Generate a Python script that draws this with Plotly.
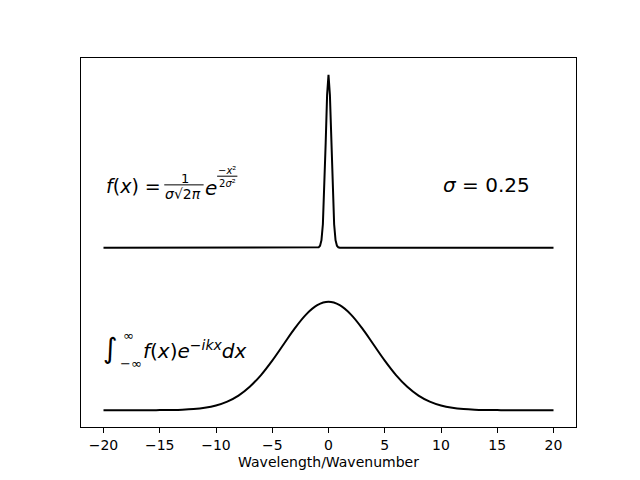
import plotly.graph_objects as go

# narrow gaussian (sigma = 0.25), drawn with an offset of 1.5
x_top = [-20, -5, -2, -1, -0.875, -0.75, -0.625, -0.5, -0.375, -0.25, -0.125, 0,
         0.125, 0.25, 0.375, 0.5, 0.625, 0.75, 0.875, 1, 2, 5, 20]
y_top = [1.5, 1.5, 1.5, 1.5, 1.5035, 1.518, 1.570, 1.716, 2.018, 2.468, 2.908, 3.096,
         2.908, 2.468, 2.018, 1.716, 1.570, 1.518, 1.5035, 1.5, 1.5, 1.5, 1.5]

# its transform (wide gaussian)
x_bot = [-20, -18, -16, -15, -14, -13, -12, -11, -10, -9, -8, -7, -6, -5, -4, -3, -2, -1, 0,
         1, 2, 3, 4, 5, 6, 7, 8, 9, 10, 11, 12, 13, 14, 15, 16, 18, 20]
y_bot = [0, 0, 0.0003, 0.0009, 0.0022, 0.0051, 0.0111, 0.0228, 0.0439, 0.0796, 0.1353, 0.2163,
         0.3247, 0.458, 0.6065, 0.755, 0.8825, 0.969, 1.0,
         0.969, 0.8825, 0.755, 0.6065, 0.458, 0.3247, 0.2163, 0.1353, 0.0796, 0.0439, 0.0228,
         0.0111, 0.0051, 0.0022, 0.0009, 0.0003, 0, 0]

xticks = [-20, -15, -10, -5, 0, 5, 10, 15, 20]

fig = go.Figure()
fig.add_trace(go.Scatter(x=x_top, y=y_top, mode="lines", line=dict(color="black", width=2)))
fig.add_trace(go.Scatter(x=x_bot, y=y_bot, mode="lines", line=dict(color="black", width=2, shape="spline")))

fnt = "DejaVu Sans"


def txt(x, y, s, size, anchor="left"):
    fig.add_annotation(x=x, y=y, xanchor=anchor, yanchor="middle", showarrow=False, text=s,
                       font=dict(family=fnt, size=size, color="black"))


def bar(x0, x1, y):
    fig.add_shape(type="line", x0=x0, x1=x1, y0=y, y1=y, line=dict(color="black", width=1))


# f(x) = 1/(sigma sqrt(2pi)) e^(-x^2/2sigma^2)
txt(-20, 2.07, "<i>f</i>(<i>x</i>) =", 19)
txt(-12.8, 2.14, "1", 13, "center")
bar(-14.6, -11.1, 2.08)
txt(-12.9, 2.0, "<i>σ</i>√2<i>π</i>", 14, "center")
txt(-11.2, 2.05, "<i>e</i>", 20)
txt(-9.0, 2.215, "−<i>x</i>²", 10, "center")
bar(-9.9, -8.1, 2.16)
txt(-9.0, 2.09, "2<i>σ</i>²", 10, "center")

txt(10, 2.08, "<i>σ</i> = 0.25", 20)

# integral
txt(-19.4, 0.57, "∫", 28, "center")
txt(-17.8, 0.69, "∞", 13, "center")
txt(-17.6, 0.435, "−∞", 13, "center")
txt(-16.7, 0.555, "<i>f</i>(<i>x</i>)<i>e</i><sup>−<i>ikx</i></sup><i>dx</i>", 20)

fig.update_layout(
    width=640, height=480, showlegend=False,
    paper_bgcolor="white", plot_bgcolor="white",
    margin=dict(l=73, r=72, t=50, b=61),
    font=dict(family=fnt, size=14, color="black"),
)
fig.update_xaxes(range=[-22, 22], tickvals=xticks, ticks="outside", ticklen=5, tickcolor="black",
                 showline=True, linecolor="black", linewidth=1, mirror=True, showgrid=False,
                 zeroline=False, title=dict(text="Wavelength/Wavenumber", standoff=5,
                                            font=dict(size=14)))
fig.update_yaxes(range=[-0.155, 3.251], showticklabels=False, ticks="",
                 showline=True, linecolor="black", linewidth=1, mirror=True, showgrid=False,
                 zeroline=False)

fig.write_html("out.html")
